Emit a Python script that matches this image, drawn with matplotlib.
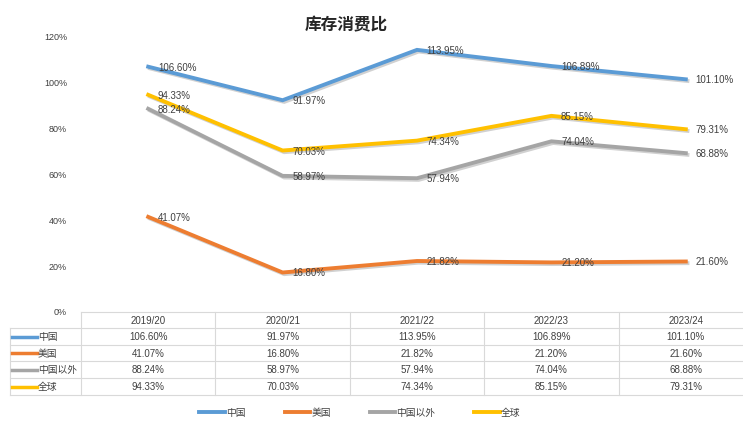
import matplotlib
matplotlib.use('Agg')
import matplotlib.pyplot as plt
from matplotlib.lines import Line2D
import matplotlib.transforms as mtransforms
import matplotlib.patheffects as pe

# 字体：数字用 Liberation Sans，中文回退到 Noto Sans CJK SC
plt.rcParams['font.family'] = ['Liberation Sans', 'Noto Sans CJK SC', 'DejaVu Sans']
plt.rcParams['axes.unicode_minus'] = False

#! 数据
years = ['2019/20', '2020/21', '2021/22', '2022/23', '2023/24']
series_names = ['中国', '美国', '中国以外', '全球']
china = [106.60, 91.97, 113.95, 106.89, 101.10]
usa = [41.07, 16.80, 21.82, 21.20, 21.60]
ex_china = [88.24, 58.97, 57.94, 74.04, 68.88]
world = [94.33, 70.03, 74.34, 85.15, 79.31]
colors = ['#5B9BD5', '#ED7D31', '#A5A5A5', '#FFC000']
yticks = [0, 20, 40, 60, 80, 100, 120]

all_series = [china, usa, ex_china, world]

W, H = 743, 431
fig = plt.figure(figsize=(W / 100, H / 100), dpi=100)

def fx(px):
    return px / W

def fy(py):
    return 1 - py / H

# 绘图区（右侧被截掉一点，和原图一致）
ax = fig.add_axes([fx(81), fy(312), fx(753 - 81), fy(37) - fy(312)])
x = list(range(len(years)))
shadow = [pe.SimpleLineShadow(offset=(1.2, -1.2), alpha=0.18, shadow_color='black'), pe.Normal()]
for vals, name, c in zip(all_series, series_names, colors):
    ax.plot(x, vals, color=c, lw=2.8, solid_joinstyle='miter', label=name, path_effects=shadow)
    for xi, v in zip(x, vals):
        ax.annotate('%.2f%%' % v, (xi, v), xytext=(7, 0), textcoords='offset points',
                    ha='left', va='center', fontsize=7, color='#404040')

ax.set_xlim(-0.5, len(years) - 0.5)
ax.set_ylim(0, 120)
ax.set_yticks(yticks)
ax.set_yticklabels(['%d%%' % t for t in yticks], fontsize=6.5, color='#404040')
ax.tick_params(axis='y', length=0, pad=10)
ax.set_xticks([])
for s in ax.spines.values():
    s.set_visible(False)

fig.text(fx(346), fy(25), '库存消费比', ha='center', va='center', fontsize=12,
         fontweight='bold', color='#262626')

#! 数据表
trans = mtransforms.blended_transform_factory(ax.transData, fig.transFigure)
row_lines = [313, 329, 346, 362, 379, 396]
grid_c = '#D9D9D9'
left_px = 10

# 横线
for i, ry in enumerate(row_lines):
    x0 = 81 if i == 0 else left_px
    fig.add_artist(Line2D([fx(x0), fx(753)], [fy(ry), fy(ry)], color=grid_c, lw=0.8,
                          transform=fig.transFigure))
# 竖线
fig.add_artist(Line2D([fx(left_px), fx(left_px)], [fy(row_lines[1]), fy(row_lines[-1])],
                      color=grid_c, lw=0.8, transform=fig.transFigure))
for k in range(len(years) + 1):
    fig.add_artist(Line2D([k - 0.5, k - 0.5], [fy(row_lines[0]), fy(row_lines[-1])],
                          color=grid_c, lw=0.8, transform=trans))

# 表头
hy = fy((row_lines[0] + row_lines[1]) / 2)
for xi, yr in zip(x, years):
    fig.text(xi, hy, yr, transform=trans, ha='center', va='center', fontsize=7, color='#404040')

# 各行
for r, (vals, name, c) in enumerate(zip(all_series, series_names, colors)):
    cy = fy((row_lines[r + 1] + row_lines[r + 2]) / 2)
    fig.add_artist(Line2D([fx(12), fx(37)], [cy, cy], color=c, lw=2.5,
                          transform=fig.transFigure))
    fig.text(fx(38), cy, name, ha='left', va='center', fontsize=7, color='#404040')
    for xi, v in zip(x, vals):
        fig.text(xi, cy, '%.2f%%' % v, transform=trans, ha='center', va='center',
                 fontsize=7, color='#404040')

#! 图例
handles = [Line2D([], [], color=c, lw=2.8) for c in colors]
fig.legend(handles, series_names, loc='center', bbox_to_anchor=(fx(360), fy(413)), ncol=4,
           frameon=False, fontsize=7, handlelength=2.6, handletextpad=0.15,
           columnspacing=4.0, labelcolor='#404040')

fig.savefig('out.png', dpi=100)
